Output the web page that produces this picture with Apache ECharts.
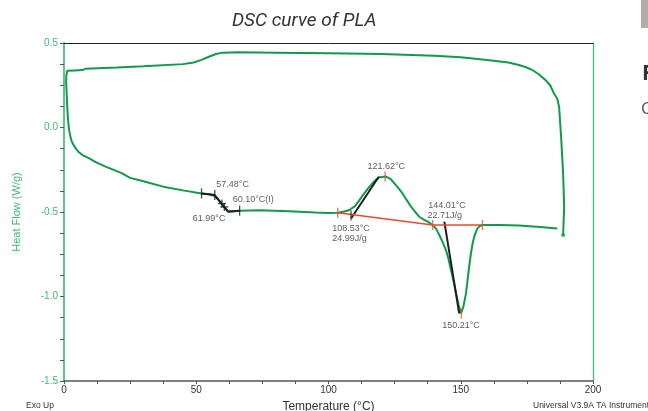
<!DOCTYPE html>
<html>
<head>
<meta charset="utf-8">
<script src="https://cdn.jsdelivr.net/npm/echarts@6/dist/echarts.min.js"></script>
<style>
  html, body { margin: 0; padding: 0; background: #fff; }
  #chart { width: 648px; height: 411px; }
</style>
</head>
<body>
<div id="chart"></div>
<script>
(function() {

  // DSC trace, in drawing order: cooling end -> top trace -> heating trace
  var curveT = [188.7, 188.9, 189.1, 188.7, 188.0, 187.2, 186.5, 185.3, 183.8, 182.1, 179.5, 177.1, 174.5, 172, 168, 160, 150, 140, 120, 100, 80, 66, 60, 57.5, 55, 52, 49, 45, 30, 20, 8, 7.5, 7, 4, 1.2, 0.9, 0.8, 1.0, 1.3, 1.6, 2.0, 2.5, 3.0, 3.5, 4.5, 5.4, 7, 9.2, 12, 15.5, 19, 21.8, 25, 30, 37.5, 45, 52, 55, 57, 59, 61, 62, 64, 66.4, 74, 85, 95, 100, 103.5, 106, 107.9, 110, 111.7, 113.5, 115.5, 117.5, 119.2, 121.8, 123.5, 124.9, 126.5, 128, 129.6, 131.2, 132.8, 134.3, 136, 137.5, 139.4, 140.7, 141.9, 143.2, 144.4, 145.4, 146.3, 147.3, 148.2, 149.2, 150.1, 151, 152, 152.6, 153.2, 153.8, 154.5, 155.3, 156.3, 157.2, 158.2, 164.5, 172, 180, 186.5];
  var curveV = [-0.636, -0.55, -0.47, -0.27, -0.07, 0.12, 0.17, 0.2, 0.25, 0.28, 0.315, 0.34, 0.358, 0.37, 0.385, 0.4, 0.415, 0.425, 0.435, 0.44, 0.443, 0.445, 0.443, 0.435, 0.42, 0.4, 0.385, 0.375, 0.362, 0.355, 0.347, 0.344, 0.34, 0.338, 0.336, 0.31, 0.27, 0.2, 0.1, 0.034, -0.02, -0.06, -0.085, -0.1, -0.125, -0.143, -0.163, -0.18, -0.205, -0.23, -0.252, -0.27, -0.298, -0.318, -0.35, -0.372, -0.39, -0.395, -0.405, -0.44, -0.478, -0.495, -0.495, -0.492, -0.49, -0.495, -0.503, -0.506, -0.504, -0.497, -0.488, -0.465, -0.43, -0.39, -0.35, -0.315, -0.295, -0.29, -0.305, -0.33, -0.36, -0.39, -0.43, -0.468, -0.5, -0.528, -0.545, -0.557, -0.577, -0.6, -0.636, -0.68, -0.725, -0.78, -0.843, -0.91, -0.98, -1.05, -1.1, -1.06, -0.98, -0.9, -0.82, -0.75, -0.685, -0.635, -0.597, -0.583, -0.577, -0.577, -0.58, -0.589, -0.597];

  // analysis construction lines
  var glassT = [52, 57, 62, 66.4];
  var glassV = [-0.39, -0.40, -0.498, -0.492];
  var crystTanT = [108.6, 119];
  var crystTanV = [-0.537, -0.291];
  var meltTanT = [143.8, 149.4];
  var meltTanV = [-0.557, -1.1];
  var baseT = [103.5, 139.4, 158.2];
  var baseV = [-0.504, -0.577, -0.577];

  var blackTickT = [52, 57, 66.4, 108.5];
  var blackTickV = [-0.39, -0.40, -0.492, -0.52];
  var crossT = [59.7, 60.6];
  var crossV = [-0.45, -0.47];
  var redTickT = [103.5, 121.4, 139.4, 158.2, 150.2];
  var redTickV = [-0.504, -0.29, -0.577, -0.577, -1.1];

  var noteT = [57.6, 63.8, 48.7, 114.7, 101.4, 101.4, 137.7, 137.4, 143.0];
  var noteV = [-0.34, -0.425, -0.537, -0.232, -0.596, -0.656, -0.459, -0.518, -1.169];
  var noteText = ['57.48°C', '60.10°C(I)', '61.99°C', '121.62°C', '108.53°C', '24.99J/g', '144.01°C', '22.71J/g', '150.21°C'];

  var xTicks = [0, 50, 100, 150, 200];
  var yTicks = [-1.5, -1.0, -0.5, 0.0, 0.5];

  function pairs(xs, ys) {
    return xs.map(function(x, i) { return [x, ys[i]]; });
  }

  var green = '#109a4a';
  var axisGreen = '#5cc68a';
  var black = '#1e1e1e';
  var red = '#ec4a2c';

  var chart = echarts.init(document.getElementById('chart'), null, {renderer: 'canvas'});

  chart.setOption({
    animation: false,
    title: {
      text: 'DSC curve of PLA',
      left: 227,
      top: 7,
      textStyle: {
        fontFamily: 'Liberation Sans Narrow, Roboto, sans-serif',
        fontStyle: 'italic',
        fontWeight: 'normal',
        fontSize: 19,
        color: '#333'
      }
    },
    grid: {left: 64, right: 55, top: 43, bottom: 30, outerBoundsMode: 'none'},
    xAxis: [{
      type: 'value',
      min: xTicks[0],
      max: xTicks[xTicks.length - 1],
      interval: xTicks[1] - xTicks[0],
      name: 'Temperature (°C)',
      nameLocation: 'middle',
      nameGap: 20,
      nameTextStyle: {fontFamily: 'Liberation Sans', fontSize: 12, color: '#333'},
      axisLine: {onZero: false, lineStyle: {color: '#555', width: 1.5}},
      axisTick: {length: 3, lineStyle: {color: '#555'}},
      minorTick: {show: true, splitNumber: 4, length: 3, lineStyle: {color: '#555'}},
      splitLine: {show: false},
      axisLabel: {fontFamily: 'Liberation Sans', fontSize: 10, color: '#333', margin: 4}
    }, {
      type: 'value',
      position: 'top',
      min: 0, max: 200,
      axisLine: {show: true, onZero: false, lineStyle: {color: '#222', width: 1}},
      axisTick: {show: false},
      axisLabel: {show: false},
      splitLine: {show: false}
    }],
    yAxis: [{
      type: 'value',
      min: yTicks[0],
      max: yTicks[yTicks.length - 1],
      interval: 0.5,
      name: 'Heat Flow (W/g)',
      nameLocation: 'middle',
      nameGap: 42,
      nameTextStyle: {fontFamily: 'Liberation Sans', fontSize: 11, color: '#3dbb70'},
      axisLine: {show: true, onZero: false, lineStyle: {color: axisGreen, width: 2}},
      axisTick: {length: 4, lineStyle: {color: '#555'}},
      minorTick: {show: true, splitNumber: 4, length: 4, lineStyle: {color: '#555'}},
      splitLine: {show: false},
      axisLabel: {
        fontFamily: 'Liberation Sans', fontSize: 10, color: '#3dbb70', margin: 6,
        formatter: function(v) { return v.toFixed(1); }
      }
    }, {
      type: 'value',
      position: 'right',
      min: -1.5, max: 0.5,
      axisLine: {show: true, onZero: false, lineStyle: {color: '#3fbf74', width: 1.3}},
      axisTick: {show: false},
      axisLabel: {show: false},
      splitLine: {show: false}
    }],
    series: [{
      type: 'line',
      data: pairs(curveT, curveV),
      symbol: 'none',
      lineStyle: {color: green, width: 2},
      z: 2
    }, {
      type: 'scatter',
      data: [[curveT[0], curveV[0]]],
      symbol: 'circle',
      symbolSize: 4,
      itemStyle: {color: green},
      z: 2
    }, {
      type: 'line',
      data: pairs(glassT, glassV),
      symbol: 'none',
      lineStyle: {color: black, width: 2},
      z: 3
    }, {
      type: 'line',
      data: pairs(crystTanT, crystTanV),
      symbol: 'none',
      lineStyle: {color: black, width: 2},
      z: 3
    }, {
      type: 'line',
      data: pairs(meltTanT, meltTanV),
      symbol: 'none',
      lineStyle: {color: black, width: 2},
      z: 3
    }, {
      type: 'line',
      data: pairs(baseT, baseV),
      symbol: 'none',
      lineStyle: {color: red, width: 1.6},
      z: 4
    }, {
      type: 'scatter',
      data: pairs(blackTickT, blackTickV),
      symbol: 'rect',
      symbolSize: [1.3, 10],
      itemStyle: {color: black},
      z: 5
    }, {
      type: 'scatter',
      data: pairs(crossT, crossV),
      symbol: 'rect',
      symbolSize: [1.3, 8],
      itemStyle: {color: black},
      z: 5
    }, {
      type: 'scatter',
      data: pairs(crossT, crossV),
      symbol: 'rect',
      symbolSize: [8, 1.3],
      itemStyle: {color: black},
      z: 5
    }, {
      type: 'scatter',
      data: pairs(redTickT, redTickV),
      symbol: 'rect',
      symbolSize: [1.3, 10],
      itemStyle: {color: red},
      z: 5
    }, {
      type: 'scatter',
      data: noteT.map(function(t, i) { return {value: [t, noteV[i]], name: noteText[i]}; }),
      symbolSize: 0,
      label: {
        show: true,
        position: 'inside',
        align: 'left',
        verticalAlign: 'middle',
        formatter: '{b}',
        fontFamily: 'Liberation Sans',
        fontSize: 9,
        color: '#333'
      },
      z: 6
    }],
    graphic: [{
      type: 'text', left: 26, top: 401,
      style: {text: 'Exo Up', font: '8.5px "Liberation Sans"', fill: '#333'}
    }, {
      type: 'text', left: 533, top: 401,
      style: {text: 'Universal V3.9A TA Instruments', font: '8.5px "Liberation Sans"', fill: '#333'}
    }, {
      type: 'rect', shape: {x: 641, y: 0, width: 7, height: 28},
      style: {fill: '#b3acac'}
    }, {
      type: 'text', left: 642, top: 64,
      style: {text: 'F', font: 'bold 21px "Open Sans"', fill: '#333'}
    }, {
      type: 'text', left: 641, top: 101,
      style: {text: 'C', font: '17px "Open Sans"', fill: '#555'}
    }]
  });

})();
</script>
</body>
</html>
